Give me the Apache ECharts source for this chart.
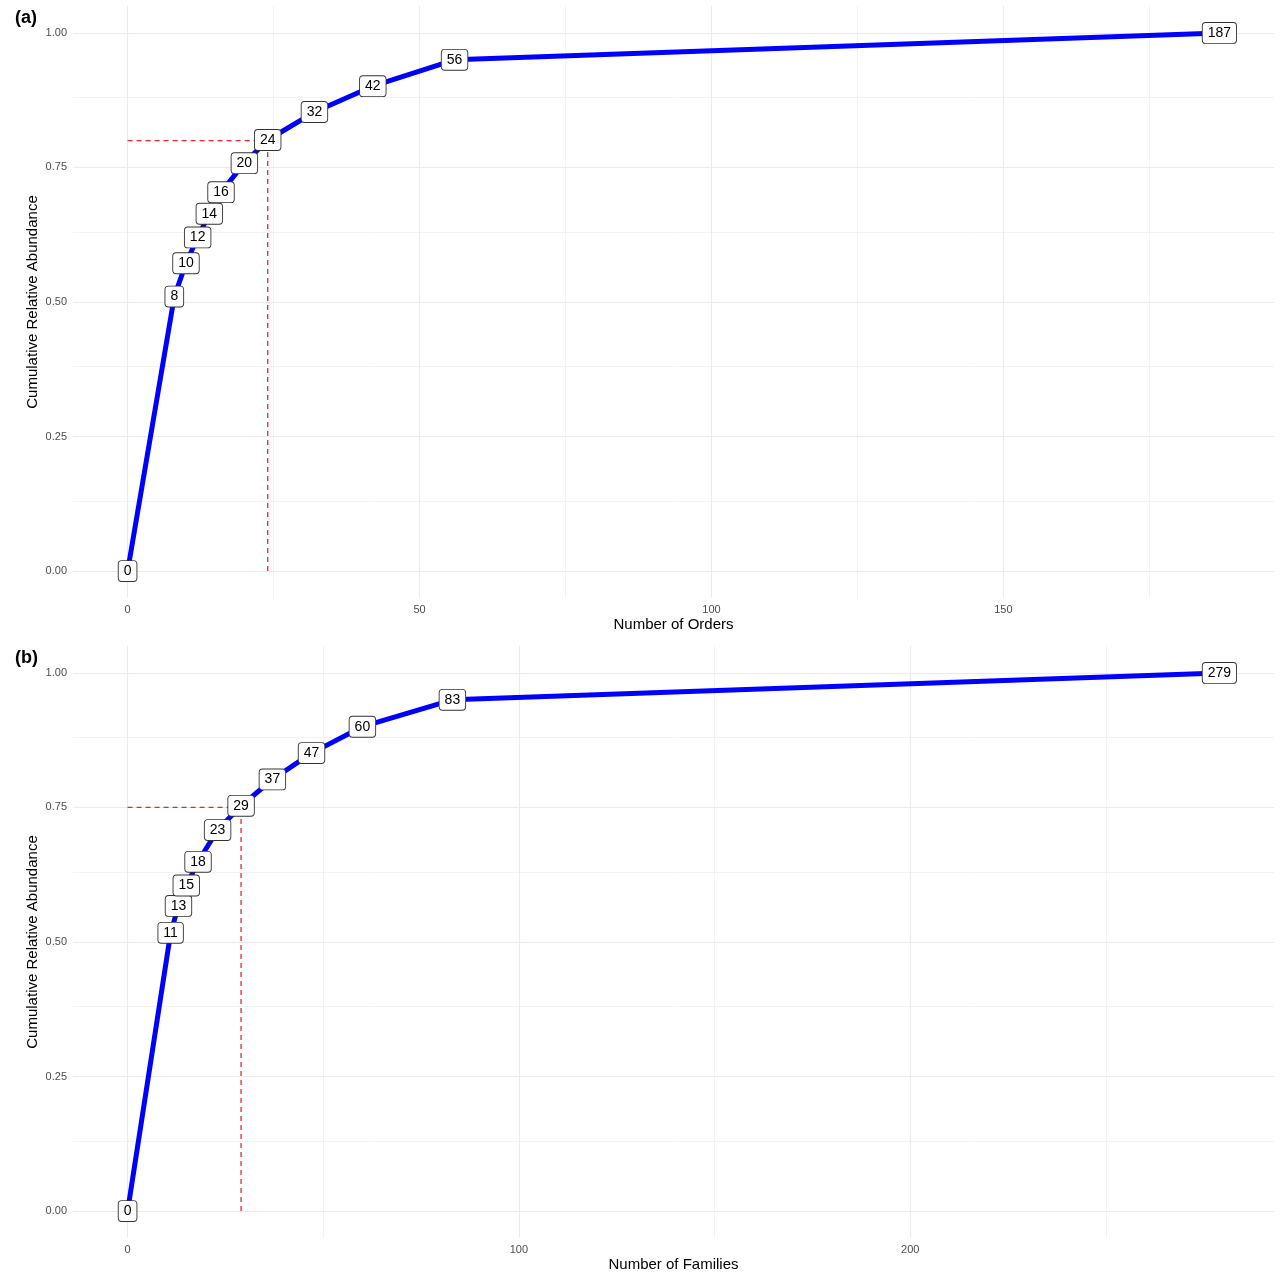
<!DOCTYPE html>
<html>
<head>
<meta charset="utf-8">
<script src="https://cdn.jsdelivr.net/npm/echarts@6/dist/echarts.min.js"></script>
<style>html,body{margin:0;padding:0;background:#fff}#c{width:1280px;height:1280px}</style>
</head>
<body>
<div id="c"></div>
<script>
// Panel (a): orders
const ordersX = [0, 8, 10, 12, 14, 16, 20, 24, 32, 42, 56, 187];
const ordersY = [0, 0.510, 0.572, 0.620, 0.664, 0.704, 0.758, 0.801, 0.853, 0.901, 0.950, 1.0];
const ordersThreshold = { x: 24, y: 0.80 };
const ordersTicks = [0, 50, 100, 150];
const ordersMinor = [25, 75, 125, 175];

// Panel (b): families
const familiesX = [0, 11, 13, 15, 18, 23, 29, 37, 47, 60, 83, 279];
const familiesY = [0, 0.517, 0.567, 0.605, 0.649, 0.708, 0.753, 0.802, 0.851, 0.900, 0.950, 1.0];
const familiesThreshold = { x: 29, y: 0.75 };
const familiesTicks = [0, 100, 200];
const familiesMinor = [50, 150, 250];

const yTicks = [0, 0.25, 0.5, 0.75, 1.0];
const yMinor = [0.125, 0.375, 0.625, 0.875];

const FONT = "'Liberation Sans', Arial, sans-serif";
const GRID = '#EBEBEB';

function panel(idx, xs, ys, thr, xTicks, xMinor, xName, top) {
  const xmax = xs[xs.length - 1];
  const pad = xmax * 0.05;
  const grid = { left: 73, right: 6, top: top, height: 592 };
  const xAxis = {
    gridIndex: idx, type: 'value', min: -pad, max: xmax + pad,
    name: xName, nameLocation: 'middle', nameGap: 19, nameMoveOverlap: false,
    nameTextStyle: { color: '#000', fontSize: 15, fontFamily: FONT },
    axisLine: { show: false }, axisTick: { show: false }, splitLine: { show: false },
    axisLabel: { customValues: xTicks, color: '#4D4D4D', fontSize: 11, fontFamily: FONT, margin: 6,
      formatter: v => String(v) }
  };
  const yAxis = {
    gridIndex: idx, type: 'value', min: -0.05, max: 1.05,
    name: 'Cumulative Relative Abundance', nameLocation: 'middle', nameGap: 33, nameMoveOverlap: false,
    nameTextStyle: { color: '#000', fontSize: 15, fontFamily: FONT },
    axisLine: { show: false }, axisTick: { show: false }, splitLine: { show: false },
    axisLabel: { customValues: yTicks, color: '#4D4D4D', fontSize: 11, fontFamily: FONT, margin: 6,
      formatter: v => v.toFixed(2) }
  };
  const gl = (vals, key, w) => vals.map(v => ({ [key]: v, lineStyle: { color: GRID, width: w, type: 'solid' } }));
  const series = [
    {
      type: 'line', xAxisIndex: idx, yAxisIndex: idx, data: [], silent: true, z: 1,
      markLine: {
        z: 1, silent: true, symbol: ['none', 'none'], label: { show: false }, animation: false,
        data: [].concat(gl(xMinor, 'xAxis', 0.6), gl(yMinor, 'yAxis', 0.6), gl(xTicks, 'xAxis', 1.1), gl(yTicks, 'yAxis', 1.1))
      }
    },
    {
      type: 'line', xAxisIndex: idx, yAxisIndex: idx, z: 2, silent: true, showSymbol: false,
      data: [[0, thr.y], [thr.x, thr.y]],
      lineStyle: { color: '#E8262B', width: 1.3, type: [5, 4] }
    },
    {
      type: 'line', xAxisIndex: idx, yAxisIndex: idx, z: 2, silent: true, showSymbol: false,
      data: [[thr.x, 0], [thr.x, thr.y]],
      lineStyle: { color: '#E8262B', width: 1.3, type: [5, 4] }
    },
    {
      type: 'line', xAxisIndex: idx, yAxisIndex: idx, z: 3, silent: true,
      data: xs.map((x, i) => [x, ys[i]]),
      lineStyle: { color: '#0000FF', width: 5 },
      symbol: 'circle', symbolSize: 1, showSymbol: true,
      itemStyle: { color: 'rgba(0,0,0,0)' },
      label: {
        show: true, position: 'inside', formatter: p => String(p.value[0]),
        color: '#000', fontSize: 14, fontFamily: FONT, lineHeight: 15,
        backgroundColor: '#fff', borderColor: '#333', borderWidth: 0.9, borderRadius: 3,
        padding: [3, 5, 2, 5]
      },
      labelLayout: { hideOverlap: false }
    }
  ];
  return { grid, xAxis, yAxis, series };
}

const a = panel(0, ordersX, ordersY, ordersThreshold, ordersTicks, ordersMinor, 'Number of Orders', 6);
const b = panel(1, familiesX, familiesY, familiesThreshold, familiesTicks, familiesMinor, 'Number of Families', 646);

const chart = echarts.init(document.getElementById('c'), null, { renderer: 'canvas' });
chart.setOption({
  animation: false,
  backgroundColor: '#fff',
  title: [
    { text: '(a)', left: 10, top: 4, textStyle: { fontSize: 18, fontWeight: 'bold', color: '#000', fontFamily: FONT } },
    { text: '(b)', left: 10, top: 644, textStyle: { fontSize: 18, fontWeight: 'bold', color: '#000', fontFamily: FONT } }
  ],
  grid: [a.grid, b.grid],
  xAxis: [a.xAxis, b.xAxis],
  yAxis: [a.yAxis, b.yAxis],
  series: a.series.concat(b.series)
});
</script>
</body>
</html>
